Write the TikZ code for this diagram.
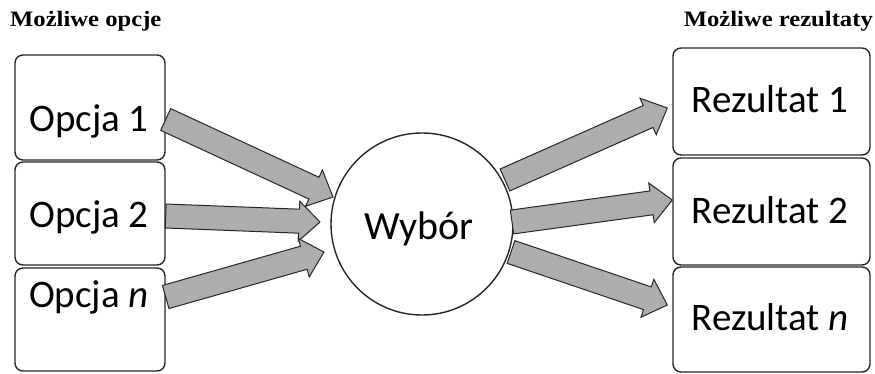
\documentclass[tikz,border=0pt]{standalone}
\usepackage{fontspec}
\usepackage{graphicx}
\usetikzlibrary{calc}
\newfontfamily\carl{Carlito}
\newfontfamily\titlef{Liberation Serif}
\newcommand\blockarr[3]{%
  \coordinate (#3-hb) at ($(#2)!21pt!(#1)$);
  \draw[barrow] ($(#1)!12pt!90:(#2)$) -- ($(#3-hb)!12pt!90:(#2)$) -- ($(#3-hb)!20pt!90:(#2)$) -- (#2)
    -- ($(#3-hb)!20pt!-90:(#2)$) -- ($(#3-hb)!12pt!-90:(#2)$) -- ($(#1)!12pt!-90:(#2)$) -- cycle;}
\begin{document}
\begin{tikzpicture}[x=1pt,y=-1pt,
  box/.style={draw=black!85, line width=1.4pt, rounded corners=8pt, fill=white, inner sep=0pt},
  lbl/.style={font=\carl\fontsize{39}{44}\selectfont, anchor=base, inner sep=0pt},
  ttl/.style={font=\titlef\bfseries\fontsize{22}{24}\selectfont, inner sep=0pt},
  barrow/.style={draw=black!85, line width=1pt, fill=black!32, line join=miter}]
\useasboundingbox (0,0) rectangle (875,374);
% titles
\node[ttl, anchor=base west] (t1) at (10,27) {\scalebox{1.12}[1]{Możliwe opcje}};
\node[ttl, anchor=base east] (t2) at (873,27) {\scalebox{1.12}[1]{Możliwe rezultaty}};
% left boxes
\node[box, minimum width=150pt, minimum height=105pt] (o1) at (90,107.5) {};
\node[box, minimum width=150pt, minimum height=103pt] (o2) at (90,213.5) {};
\node[box, minimum width=150pt, minimum height=103pt] (o3) at (90,319.5) {};
\node[lbl] (lo1) at (89,132) {Opcja 1};
\node[lbl] (lo2) at (89,227) {Opcja 2};
\node[lbl] (lo3) at (89,307) {Opcja \textit{n}};
% right boxes
\node[box, minimum width=197pt, minimum height=107pt] (r1) at (771.5,101.5) {};
\node[box, minimum width=197pt, minimum height=107pt] (r2) at (771.5,211.5) {};
\node[box, minimum width=197pt, minimum height=105pt] (r3) at (771.5,319.5) {};
\node[lbl] (lr1) at (770,113) {Rezultat 1};
\node[lbl] (lr2) at (770,223) {Rezultat 2};
\node[lbl] (lr3) at (770,330) {Rezultat \textit{n}};
% circle
\node[circle, draw=black!85, line width=1.4pt, fill=white, minimum size=182pt, inner sep=0pt] (w) at (422,224) {};
\node[lbl, font=\carl\fontsize{40}{44}\selectfont] (lw) at (419,240) {Wybór};
% arrow end points
\coordinate (a1s) at ($(o1.east)+(0,12)$);
\coordinate (a2s) at ($(o2.east)+(0,2.5)$);
\coordinate (a3s) at ($(o3.east)+(0,-22.5)$);
\coordinate (a1e) at ($(w.center)+(-89,-27)$);
\coordinate (a2e) at ($(w.center)+(-102,-2)$);
\coordinate (a3e) at ($(w.center)+(-98,28)$);
\coordinate (b1s) at ($(w.center)+(83,-44)$);
\coordinate (b2s) at ($(w.center)+(90,-2)$);
\coordinate (b3s) at ($(w.center)+(89,28)$);
\coordinate (b1e) at ($(r1.west)+(-5,6.5)$);
\coordinate (b2e) at ($(r2.west)+(0,-11.5)$);
\coordinate (b3e) at ($(r3.west)+(-5,-14.5)$);
\blockarr{a1s}{a1e}{A1}
\blockarr{a2s}{a2e}{A2}
\blockarr{a3s}{a3e}{A3}
\blockarr{b1s}{b1e}{B1}
\blockarr{b2s}{b2e}{B2}
\blockarr{b3s}{b3e}{B3}
\end{tikzpicture}
\end{document}
